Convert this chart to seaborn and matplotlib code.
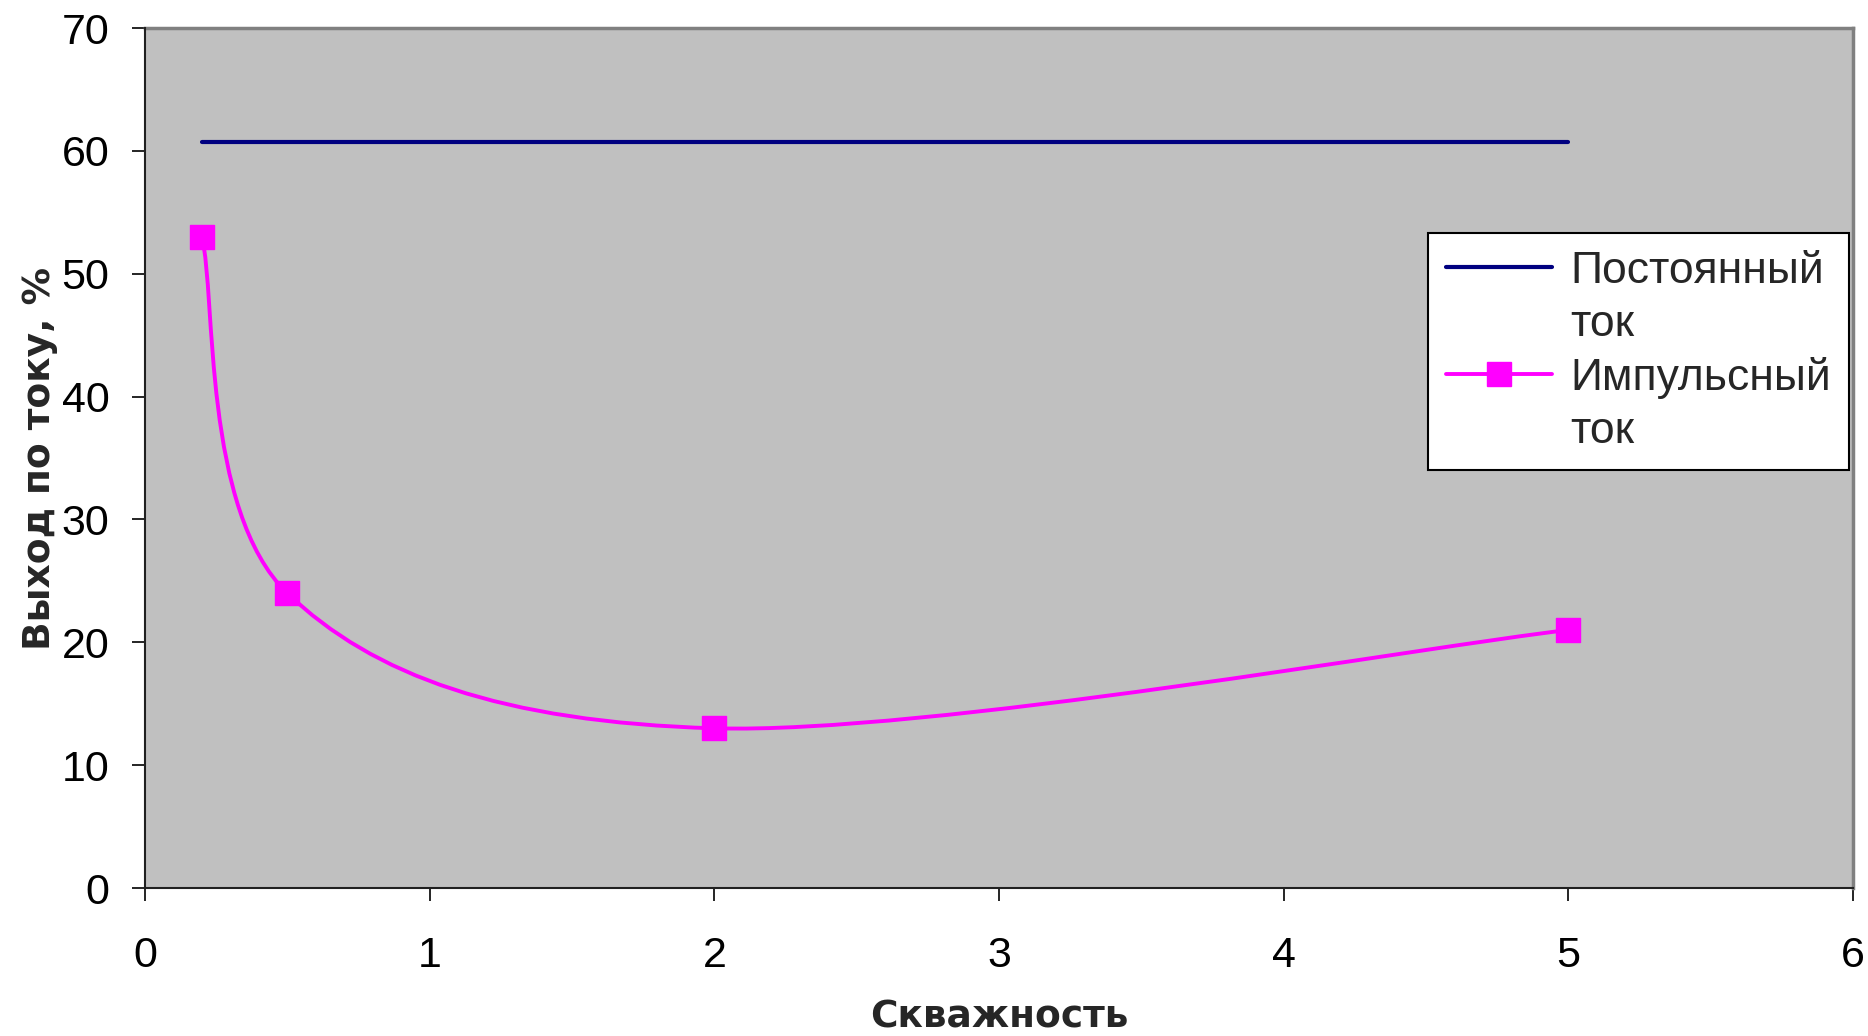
import numpy as np
import seaborn as sns
import matplotlib.pyplot as plt
from matplotlib.path import Path
from matplotlib.patches import PathPatch
from matplotlib.lines import Line2D

# data
duty = [0.2, 0.5, 2, 5]
const_yield = [60.7, 60.7, 60.7, 60.7]
pulse_yield = [53, 24, 13, 21]

x_ticks = [0, 1, 2, 3, 4, 5, 6]
y_ticks = [0, 10, 20, 30, 40, 50, 60, 70]

series_labels = ["Постоянный", "ток", "Импульсный", "ток"]
x_title = "Скважность"
y_title = "Выход по току, %"

NAVY = "#000080"
MAGENTA = "#FF00FF"

sns.set_theme(style="white")
plt.rcParams["font.family"] = ["Liberation Sans", "DejaVu Sans"]

W, H = 1868, 1036
fig = plt.figure(figsize=(W / 100, H / 100), dpi=100)
ax = fig.add_axes([145 / W, 1 - 888 / H, 1708 / W, 860 / H])
ax.set_facecolor("#C0C0C0")

# constant current line
sns.lineplot(x=duty, y=const_yield, color=NAVY, linewidth=3, ax=ax, legend=False)

# pulsed current: Excel-style smoothed line (Catmull-Rom bezier through the points)
pts = np.column_stack([duty, pulse_yield]).astype(float)
n = len(pts)
verts = [tuple(pts[0])]
codes = [Path.MOVETO]
for i in range(n - 1):
    p_prev = pts[max(i - 1, 0)]
    p0, p1 = pts[i], pts[i + 1]
    p_next = pts[min(i + 2, n - 1)]
    c1 = p0 + (p1 - p_prev) / 6
    c2 = p1 - (p_next - p0) / 6
    verts += [tuple(c1), tuple(c2), tuple(p1)]
    codes += [Path.CURVE4] * 3
ax.add_patch(PathPatch(Path(verts, codes), facecolor="none", edgecolor=MAGENTA,
                       linewidth=2.8, zorder=3, transform=ax.transData))

sns.scatterplot(x=duty, y=pulse_yield, marker="s", s=290, color=MAGENTA,
                edgecolor=MAGENTA, linewidth=1, zorder=4, ax=ax, legend=False)

ax.set_xlim(0, 6)
ax.set_ylim(0, 70)
ax.set_xticks(x_ticks)
ax.set_yticks(y_ticks)
ax.tick_params(axis="both", direction="out", length=9.5, width=1.2,
               labelsize=31, colors="black", bottom=True, left=True)
ax.tick_params(axis="x", pad=25)
ax.tick_params(axis="y", pad=16)

for side in ["top", "right"]:
    ax.spines[side].set_color("#808080")
    ax.spines[side].set_linewidth(2.5)
for side in ["left", "bottom"]:
    ax.spines[side].set_color("#202020")
    ax.spines[side].set_linewidth(1.5)
    ax.spines[side].set_zorder(5)

ax.set_xlabel(x_title, fontsize=27, fontweight="bold", family="DejaVu Sans")
ax.set_ylabel(y_title, fontsize=27, fontweight="bold", family="DejaVu Sans")
ax.xaxis.set_label_coords(0.5, -0.13)
ax.yaxis.set_label_coords(-0.051, 0.5)

handles = [
    Line2D([], [], color=NAVY, linewidth=3),
    Line2D([], [], color="none"),
    Line2D([], [], color=MAGENTA, linewidth=2.8, marker="s", markersize=17),
    Line2D([], [], color="none"),
]
leg = ax.legend(handles, series_labels, loc="upper left",
                bbox_to_anchor=(1428 / W, 1 - 233 / H), bbox_transform=fig.transFigure,
                borderaxespad=0, frameon=True, fancybox=False, framealpha=1,
                edgecolor="black", facecolor="white", fontsize=32,
                handlelength=2.4, handletextpad=0.4, labelspacing=0.27, borderpad=0.4)
leg.get_frame().set_linewidth(1.5)

fig.savefig("out.png", dpi=100, facecolor="white")
